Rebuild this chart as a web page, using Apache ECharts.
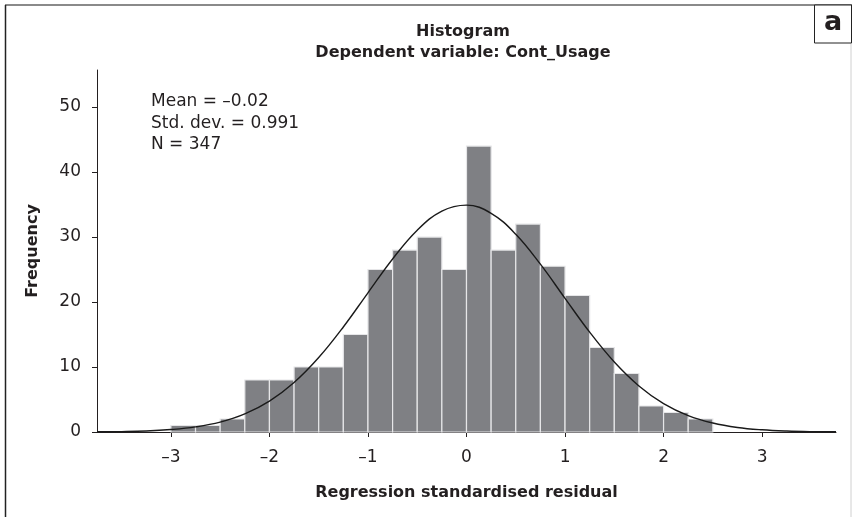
<!DOCTYPE html>
<html><head><meta charset="utf-8">
<script src="https://cdn.jsdelivr.net/npm/echarts@6/dist/echarts.min.js"></script>
<style>html,body{margin:0;padding:0;background:#fff}#c{width:852px;height:517px}</style>
</head><body><div id="c"></div>
<script>
// Histogram bins (start of each bin) and counts
const binStarts = [-3, -2.75, -2.5, -2.25, -2, -1.75, -1.5, -1.25, -1, -0.75, -0.5, -0.25, 0, 0.25, 0.5, 0.75, 1, 1.25, 1.5, 1.75, 2, 2.25];
const binWidth = 0.25;
const counts = [1, 1, 2, 8, 8, 10, 10, 15, 25, 28, 30, 25, 44, 28, 32, 25.5, 21, 13, 9, 4, 3, 2];
// Normal curve, points
const curveX = [-3.75, -3.5, -3.25, -3, -2.75, -2.5, -2.25, -2, -1.75, -1.5, -1.25, -1, -0.75, -0.5, -0.25, 0, 0.25, 0.5, 0.75, 1, 1.25, 1.5, 1.75, 2, 2.25, 2.5, 2.75, 3, 3.25, 3.5, 3.75];
const curveY = [0.03, 0.06, 0.15, 0.38, 0.79, 1.52, 2.78, 4.75, 7.61, 11.45, 16.16, 21.42, 26.62, 31.05, 33.99, 34.91, 33.65, 30.43, 25.82, 20.56, 15.36, 10.77, 7.09, 4.37, 2.53, 1.38, 0.70, 0.34, 0.15, 0.06, 0.03];
const xTicks = [-3, -2, -1, 0, 1, 2, 3];
const yTicks = [0, 10, 20, 30, 40, 50];
const titleLines = ['Histogram', 'Dependent variable: Cont_Usage'];
const statsLines = ['Mean = –0.02', 'Std. dev. = 0.991', 'N = 347'];
const xName = 'Regression standardised residual';
const yName = 'Frequency';
const panelLabel = 'a';

const FONT = 'DejaVu Sans';
const INK = '#231f20';
const chart = echarts.init(document.getElementById('c'), null, {renderer: 'canvas'});
const fmt = v => (v < 0 ? '–' + Math.abs(v) : String(v));

chart.setOption({
  animation: false,
  backgroundColor: '#fff',
  grid: {left: 97, right: 16, top: 70, bottom: 85},
  xAxis: {
    type: 'value', min: -3.75, max: 3.75,
    splitLine: {show: false},
    axisLine: {onZero: false, lineStyle: {color: INK, width: 1}},
    axisTick: {show: true, customValues: xTicks, length: 5, lineStyle: {color: INK}},
    axisLabel: {customValues: xTicks, formatter: fmt, fontSize: 17, fontFamily: FONT, color: INK, margin: 17},
    name: xName, nameLocation: 'middle', nameGap: 53,
    nameTextStyle: {fontSize: 16, fontWeight: 'bold', fontFamily: FONT, color: INK}
  },
  yAxis: {
    type: 'value', min: 0, max: 55.7,
    splitLine: {show: false},
    axisLine: {show: true, onZero: false, lineStyle: {color: INK, width: 1}},
    axisTick: {show: true, customValues: yTicks, length: 5, lineStyle: {color: INK}},
    axisLabel: {customValues: yTicks, fontSize: 17, fontFamily: FONT, color: INK, margin: 16},
    name: yName, nameLocation: 'middle', nameGap: 56,
    nameTextStyle: {fontSize: 16, fontWeight: 'bold', fontFamily: FONT, color: INK}
  },
  series: [
    {
      type: 'custom',
      data: binStarts.map((s, i) => [s, s + binWidth, counts[i]]),
      encode: {x: [0, 1], y: 2},
      renderItem: function (params, api) {
        const p0 = api.coord([api.value(0), api.value(2)]);
        const p1 = api.coord([api.value(1), 0]);
        return {
          type: 'rect',
          shape: {x: p0[0], y: p0[1], width: p1[0] - p0[0], height: p1[1] - p0[1]},
          style: {fill: '#7f8084', stroke: '#e6e6e8', lineWidth: 1.2}
        };
      },
      z: 2
    },
    {
      type: 'line',
      data: curveX.map((x, i) => [x, curveY[i]]),
      smooth: 0.4,
      showSymbol: false,
      lineStyle: {color: '#1a1a1a', width: 1.4},
      z: 3
    }
  ],
  graphic: [
    {type: 'line', shape: {x1: 5, y1: 5, x2: 852, y2: 5}, style: {stroke: '#8a8a8a', lineWidth: 2}},
    {type: 'line', shape: {x1: 5.5, y1: 5, x2: 5.5, y2: 517}, style: {stroke: '#222', lineWidth: 1.5}},
    {type: 'line', shape: {x1: 851, y1: 5, x2: 851, y2: 517}, style: {stroke: '#d0d0d0', lineWidth: 1}},
    {type: 'rect', shape: {x: 814.5, y: 5, width: 37, height: 38}, style: {fill: '#fff', stroke: '#222', lineWidth: 1}},
    {type: 'text', style: {text: panelLabel, x: 833, y: 23, align: 'center', verticalAlign: 'middle', font: 'bold 27px "DejaVu Sans"', fill: INK}},
    {type: 'text', style: {text: titleLines.join('\n'), x: 463, y: 42, align: 'center', verticalAlign: 'middle', lineHeight: 21, font: 'bold 16px "DejaVu Sans"', fill: INK}},
    {type: 'text', style: {text: statsLines.join('\n'), x: 151, y: 91, align: 'left', verticalAlign: 'top', lineHeight: 21.6, font: '17px "DejaVu Sans"', fill: INK}}
  ]
});
</script></body></html>
